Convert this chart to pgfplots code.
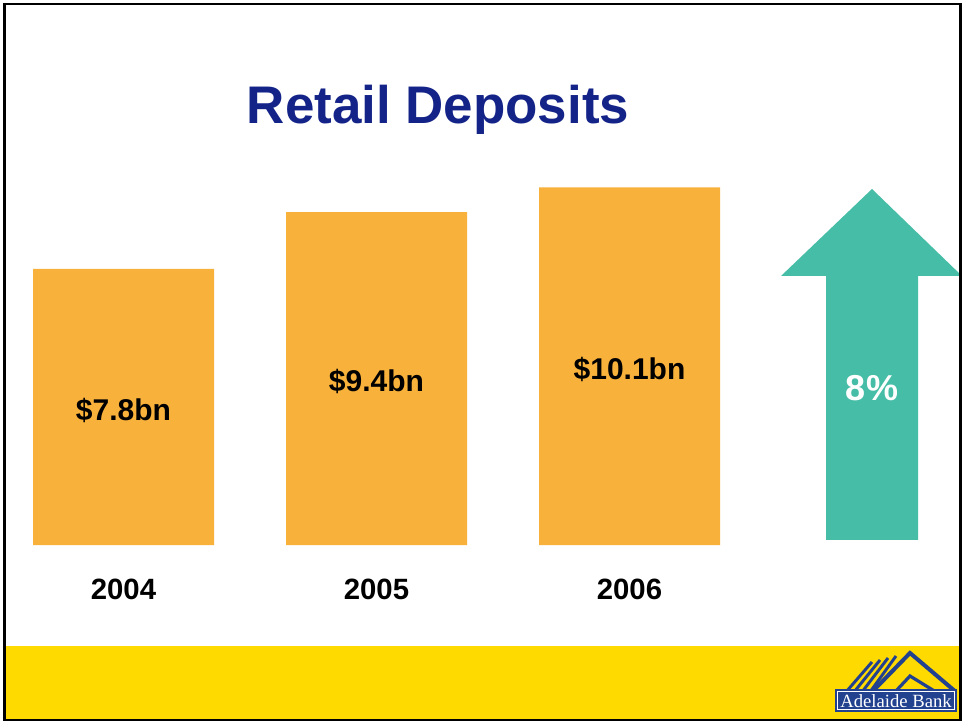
\documentclass[border=0pt]{standalone}
\usepackage{fontspec}
\setmainfont{Liberation Sans}
\newfontfamily\seriffont{Liberation Serif}
\usepackage{pgfplots}
\pgfplotsset{compat=1.18}
\usepackage{pgfplotstable}
\definecolor{barorange}{HTML}{F8B13B}
\definecolor{arrowteal}{HTML}{46BDA6}
\definecolor{navy}{HTML}{142387}
\definecolor{bandyellow}{HTML}{FFDA00}
\definecolor{logoblue}{HTML}{22418F}

\pgfplotstableread{
x y
0 7.8
1 9.4
2 10.1
}\deposits

\begin{document}
\begin{tikzpicture}
\begin{scope}[x=0.75pt,y=-0.75pt,yshift=408.75pt]
  \useasboundingbox (0,0) rectangle (962,722);
  \fill[white] (0,0) rectangle (962,722);
  \fill[bandyellow] (5,646) rectangle (960,719);
\end{scope}

\begin{axis}[
  at={(0,0)}, anchor=south west,
  scale only axis,
  width=721.5pt, height=408.75pt,
  xmin=-0.48814, xmax=3.31423,
  ymin=0, ymax=15.395,
  axis line style={draw=none},
  tick style={draw=none},
  major tick length=0pt,
  ytick=\empty,
  xtick={0,1,2},
  xticklabels={2004,2005,2006},
  xticklabel style={anchor=center, yshift=-33pt, font=\bfseries\fontsize{22}{26}\selectfont},
  clip=false,
]
\addplot[ybar, bar width=135.75pt, fill=barorange, draw=none] table[x=x, y=y] {\deposits};
\addplot[draw=none, mark=none,
  nodes near coords={\$\pgfmathprintnumber[assume math mode=true,fixed,precision=1]{\pgfplotspointmeta}bn},
  point meta=explicit,
  every node near coord/.style={anchor=center, yshift=-2.5pt, font=\bfseries\fontsize{22.5}{26}\selectfont, text=black}]
  table[x=x, y expr=\thisrow{y}/2, meta=y] {\deposits};
\end{axis}

\begin{scope}[x=0.75pt,y=-0.75pt,yshift=408.75pt]
  % arrow
  \fill[arrowteal] (826,540) -- (826,276) -- (781,276) -- (872,189) -- (962,276) -- (918,276) -- (918,540) -- cycle;
  \node[text=white, font=\bfseries\fontsize{27}{30}\selectfont] at (872,388) {8\%};
  % title
  \node[anchor=base, text=navy, font=\bfseries\fontsize{39.7}{44}\selectfont] at (438,124) {Retail Deposits};
  % logo
  \begin{scope}
    \clip (830,645) rectangle (960,689);
    \draw[logoblue, line width=3pt, line join=miter] (872,692) -- (910,653) -- (956,692);
    \draw[logoblue, line width=2.4pt] (895,692) -- (910,676) -- (936,692);
    \foreach \i in {0,1,2,3}{
      \draw[logoblue, line width=2.2pt] (846+8*\i,692) -- (872+8*\i,662-2*\i);
    }
  \end{scope}
  \fill[logoblue] (835,689) rectangle (957,712);
  \draw[white, line width=0.6pt] (837.5,691.5) rectangle (954.5,709.5);
  \node[text=white, font=\seriffont\fontsize{14}{15}\selectfont] at (896,701) {Adelaide Bank};
  % border
  \draw[black, line width=1.9pt] (4.5,4) rectangle (960.5,720);
\end{scope}
\end{tikzpicture}
\end{document}
